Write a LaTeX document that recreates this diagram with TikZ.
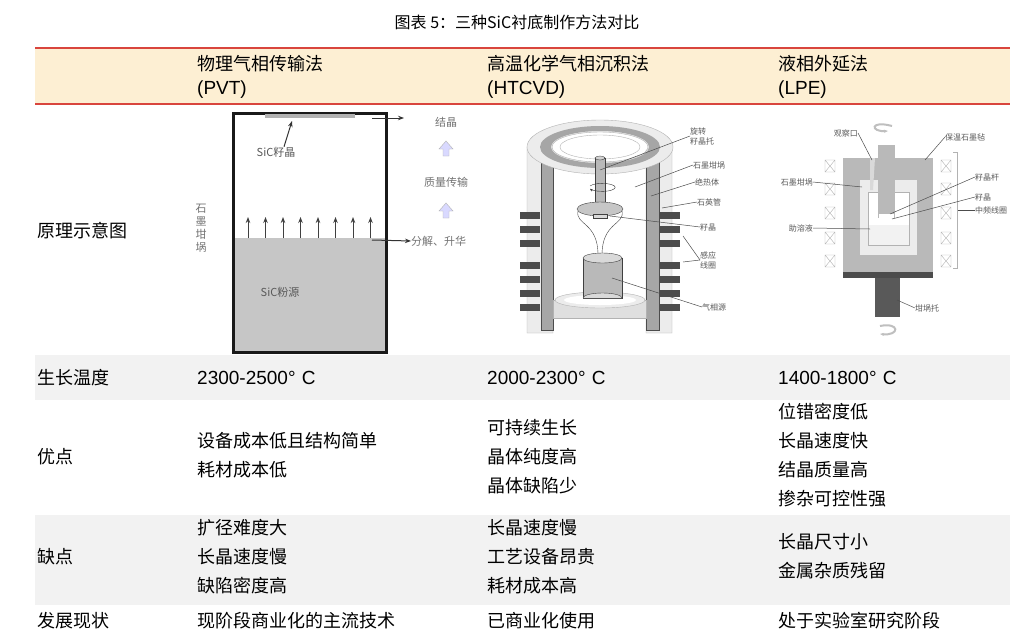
\documentclass[tikz,border=0pt]{standalone}
\usepackage{fontspec}
\setmainfont{Liberation Sans}
\newfontfamily\cjk{Noto Sans CJK SC}
\usetikzlibrary{arrows.meta}
\definecolor{hdr}{HTML}{FDEFD3}
\definecolor{rowg}{HTML}{F2F2F2}
\definecolor{redl}{HTML}{D9453D}
\begin{document}
\begin{tikzpicture}[x=1pt,y=-1pt,
  body/.style={anchor=west,inner sep=0pt,font=\fontsize{18}{20}\selectfont\cjk},
  num/.style={anchor=west,inner sep=0pt,font=\fontsize{19}{21}\selectfont},
  lab/.style={inner sep=0pt,font=\fontsize{11}{13}\selectfont\cjk,text=black!65},
  tiny/.style={inner sep=0pt,font=\fontsize{8}{10}\selectfont\cjk,text=gray!70!black},
  ld/.style={draw=gray!60!black,line width=0.5pt},
  arr/.style={-{Stealth[length=6pt]},black!80,line width=1pt}]
\useasboundingbox (0,0) rectangle (1035,640);
\fill[white] (0,0) rectangle (1035,640);
% backgrounds
\fill[hdr] (35,48) rectangle (1010,104);
\fill[rowg] (35,355) rectangle (1010,400);
\fill[rowg] (35,515) rectangle (1010,605);
\draw[redl,line width=1.5pt] (35,48) -- (1010,48);
\draw[redl,line width=1.5pt] (35,104) -- (1010,104);
\node[inner sep=0pt,font=\fontsize{16}{18}\selectfont\cjk] (title) at (517,22) {图表 5：三种SiC衬底制作方法对比};
% header
\node[body] (h1) at (197,64) {物理气相传输法};
\node[num] (h1b) at (197,90) {(PVT)};
\node[body] (h2) at (487,64) {高温化学气相沉积法};
\node[num] (h2b) at (487,90) {(HTCVD)};
\node[body] (h3) at (778,64) {液相外延法};
\node[num] (h3b) at (778,90) {(LPE)};
% row labels
\node[body] (r1) at (37,231) {原理示意图};
\node[body] (r2) at (37,378) {生长温度};
\node[body] (r3) at (37,457) {优点};
\node[body] (r4) at (37,557) {缺点};
\node[body] (r5) at (37,621) {发展现状};
% temps
\node[num] (t1) at (197,378) {2300-2500°\,\,C};
\node[num] (t2) at (487,378) {2000-2300°\,\,C};
\node[num] (t3) at (778,378) {1400-1800°\,\,C};
% advantages
\node[body] (a11) at (197,441) {设备成本低且结构简单};
\node[body] (a12) at (197,470) {耗材成本低};
\node[body] (a21) at (487,428) {可持续生长};
\node[body] (a22) at (487,457) {晶体纯度高};
\node[body] (a23) at (487,486) {晶体缺陷少};
\node[body] (a31) at (778,412) {位错密度低};
\node[body] (a32) at (778,441) {长晶速度快};
\node[body] (a33) at (778,470) {结晶质量高};
\node[body] (a34) at (778,499) {掺杂可控性强};
% disadvantages
\node[body] (d11) at (197,528) {扩径难度大};
\node[body] (d12) at (197,557) {长晶速度慢};
\node[body] (d13) at (197,586) {缺陷密度高};
\node[body] (d21) at (487,528) {长晶速度慢};
\node[body] (d22) at (487,557) {工艺设备昂贵};
\node[body] (d23) at (487,586) {耗材成本高};
\node[body] (d31) at (778,542) {长晶尺寸小};
\node[body] (d32) at (778,571) {金属杂质残留};
% development
\node[body] (s1) at (197,621) {现阶段商业化的主流技术};
\node[body] (s2) at (487,621) {已商业化使用};
\node[body] (s3) at (778,621) {处于实验室研究阶段};
% ===== PVT =====
\fill[gray!45] (233,238) rectangle (386,352);
\draw[gray!20!black,line width=3pt] (233,113) rectangle (386,352);
\fill[gray!60] (265,114) rectangle (355,118);
\foreach \xx in {248,265.5,283,300.5,318,335.5,353,370.5}
  \draw[-{Stealth[length=6pt]},gray!50!black,line width=0.9pt] (\xx,238) -- (\xx,217);
\node[lab] (seed) at (276,152) {SiC籽晶};
\draw[arr] (seed.north) ++(8,0) -- (292,121);
\node[lab] (src) at (280,292) {SiC粉源};
\node[lab,text=black!55,align=center] (cr) at (201,228) {石\\墨\\坩\\埚};
\coordinate (c1) at (372,118);
\coordinate (c2) at (372,240);
\node[lab,text=black!55] (jj) at (446,122) {结晶};
\node[lab,text=black!55] (zl) at (446,182) {质量传输};
\node[lab,text=black!55,anchor=west] (fj) at (411,241) {分解、升华};
\draw[arr] (c1) -- (404,118);
\draw[arr] (c2) -- (fj.west);
\foreach \yy in {145,207}
  \draw[fill=blue!15,draw=gray!60] (443,\yy+11) -- (443,\yy+4) -- (439,\yy+4) -- (446,\yy-4) -- (453,\yy+4) -- (449,\yy+4) -- (449,\yy+11) -- cycle;
% ===== HTCVD =====
\begin{scope}
\fill[gray!15,draw=gray!60] (527,147) -- (527,333) -- (553,333) -- (553,150) -- cycle;
\fill[gray!15,draw=gray!60] (672,147) -- (672,333) -- (646,333) -- (646,150) -- cycle;
\fill[gray!70,draw=gray!60!black] (541,155) rectangle (553,330);
\fill[gray!70,draw=gray!60!black] (646,155) rectangle (659,330);
\fill[gray!25,draw=gray!60] (553,300) rectangle (646,318);
\fill[gray!15,draw=gray!60] (600,300) ellipse (45 and 8);
\fill[white] (600,300) ellipse (36 and 5);
\draw[gray!60,fill=gray!15,even odd rule] (600,147) ellipse (73 and 27) (600,147) ellipse (48 and 15);
\fill[gray!70,even odd rule] (600,147) ellipse (60 and 21) (600,147) ellipse (49 and 16);
\fill[white,draw=gray!60] (600,147) ellipse (40 and 12);
% coils
\foreach \yy in {212,226,240,262,276,290,304}{
  \fill[gray!60!black] (520,\yy) rectangle (540,\yy+7);
  \fill[gray!60!black] (660,\yy) rectangle (680,\yy+7);}
% rod and holder
\fill[gray!55,draw=gray!50!black] (595,158) rectangle (605,205);
\fill[gray!35,draw=gray!50!black] (600,158) ellipse (5 and 2);
\fill[gray!45,draw=gray!50!black] (600,209) ellipse (23 and 7);
\fill[gray!30,draw=gray!50!black] (593,214) rectangle (607,218);
\draw[gray!50!black] (578,211) .. controls (575,225) and (598,222) .. (598,255);
\draw[gray!50!black] (622,211) .. controls (625,225) and (602,222) .. (602,255);
\draw[-{Stealth[length=3pt]},gray!40!black] (590,186) arc (200:520:13 and 4);
% source
\fill[gray!55,draw=gray!50!black] (583,258) rectangle (622,298);
\fill[gray!30,draw=gray!50!black] (583,298) arc (180:360:19.5 and 5);
\fill[gray!30,draw=gray!50!black] (602.5,258) ellipse (19.5 and 5);
\end{scope}
\node[tiny,anchor=west,align=left] (l1) at (690,136) {旋转\\籽晶托};
\node[tiny,anchor=west] (l2) at (693,165) {石墨坩埚};
\node[tiny,anchor=west] (l3) at (695,182) {绝热体};
\node[tiny,anchor=west] (l4) at (697,202) {石英管};
\node[tiny,anchor=west] (l5) at (700,227) {籽晶};
\node[tiny,anchor=west,align=left] (l6) at (700,260) {感应\\线圈};
\node[tiny,anchor=west] (l7) at (702,307) {气相源};
\draw[ld] (l1.west) -- (600,170);
\draw[ld] (l2.west) -- (635,187);
\draw[ld] (l3.west) -- (651,196);
\draw[ld] (l4.west) -- (662,208);
\draw[ld] (l5.west) -- (610,216);
\draw[ld] (l6.west) -- (683,236);
\draw[ld] (l6.west) -- (683,262);
\draw[ld] (l7.west) -- (612,278);
% ===== LPE =====
\fill[gray!55] (843,158) rectangle (933,273);
\fill[gray!60!black] (843,272) rectangle (933,278);
\fill[gray!70!black] (875,278) rectangle (900,317);
\fill[gray!15] (860,180) rectangle (917,255);
\fill[white] (868,192) rectangle (909,225);
\fill[gray!10] (868,225) rectangle (909,245);
\draw[gray!60] (868,192) rectangle (909,245);
\fill[gray!55] (878,145) rectangle (895,218);
\fill[white] (879,214) rectangle (894,218);
\fill[gray!30] (870,158) -- (875,158) -- (873,190) -- (870,190) -- cycle;
\foreach \yy in {160,183,207,232,255}{
  \draw[gray!60] (825,\yy) rectangle (835,\yy+12) (825,\yy) -- (835,\yy+12) (835,\yy) -- (825,\yy+12);
  \draw[gray!60] (941,\yy) rectangle (951,\yy+12) (941,\yy) -- (951,\yy+12) (951,\yy) -- (941,\yy+12);}
\draw[gray!60] (953,152) -- (957,152) -- (957,268) -- (953,268);
\draw[gray!50,line width=2pt,-{Stealth[length=4pt]}] (892,126) .. controls (870,120) and (870,132) .. (888,131);
\draw[gray!50,line width=2pt,-{Stealth[length=4pt]}] (880,326) .. controls (900,322) and (900,336) .. (880,334);
\node[tiny,anchor=east] (p1) at (858,133) {观察口};
\node[tiny,anchor=west] (p2) at (945,137) {保温石墨毡};
\node[tiny,anchor=east] (p3) at (813,182) {石墨坩埚};
\node[tiny,anchor=west] (p4) at (975,177) {籽晶杆};
\node[tiny,anchor=west] (p5) at (975,197) {籽晶};
\node[tiny,anchor=west] (p6) at (975,210) {中频线圈};
\node[tiny,anchor=east] (p7) at (813,228) {助溶液};
\node[tiny,anchor=west] (p8) at (915,308) {坩埚托};
\draw[ld] (p1.east) -- (872,160);
\draw[ld] (p2.west) -- (925,160);
\draw[ld] (p3.east) -- (862,187);
\draw[ld] (p4.west) -- (890,214);
\draw[ld] (p5.west) -- (892,219);
\draw[ld] (p6.west) -- (958,210);
\draw[ld] (p7.east) -- (870,229);
\draw[ld] (p8.west) -- (897,300);
\end{tikzpicture}
\end{document}
